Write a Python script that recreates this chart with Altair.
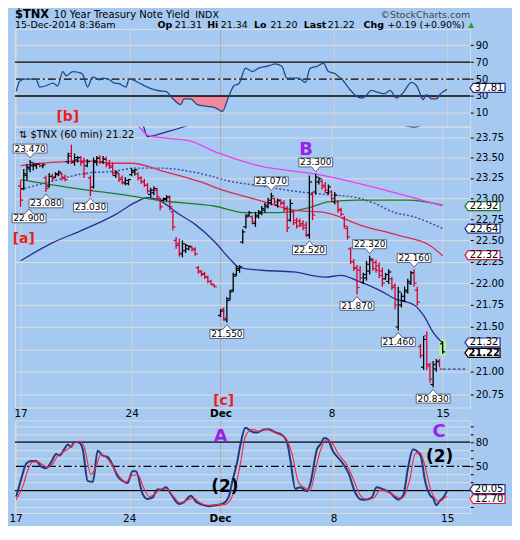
import altair as alt
import pandas as pd

FONT = "DejaVu Sans"
BG = "#a6c9f2"
BORDER = "#1c2b5e"
BAR_RED = "#d6002d"
LABEL_RED = "#ee1c1c"
PURPLE = "#9a24e6"
NAVY = "#2b2d8f"

# ---------------- time axis (hourly bar index, first bar of Nov 17 = 0)
DATE_TICKS = [0, 35, 63, 98, 133]
DATE_LABELS = ["17", "24", "Dec", "8", "15"]
DEC_TICK = 63
X_MIN, X_MAX = -0.2, 140.1

PRICE_TICKS = [20.75, 21.00, 21.25, 21.50, 21.75, 22.00, 22.25, 22.50, 22.75,
               23.00, 23.25, 23.50, 23.75]
PRICE_HIDDEN = [21.25]          # label covered by the price tags in the original
PRICE_MIN, PRICE_MAX = 20.61, 23.886
RSI_TICKS = [10, 30, 50, 70, 90]
RSI_MIN, RSI_MAX = -6.1, 109.2
RSI_LINES = [70, 30]
RSI_MID = [50]
STO_TICKS = [0, 10, 20, 30, 40, 50, 60, 70, 80, 90, 100]
STO_SHOWN = [80, 50]
STO_MIN, STO_MAX = -7.7, 107.0
STO_LINES = [80, 20]
STO_MID = [50]

# ---------------- hourly OHLC bars (None = no bar)
HIGH = [23.22, 23.36, 23.42, 23.47, 23.44, 23.43, 23.44, 23.43, 23.28, 23.31,
        23.30, 23.32, 23.34, 23.31, 23.29, 23.56, 23.66, 23.55, 23.52, 23.52,
        23.50, 23.48, 23.28, 23.50, 23.52, 23.53, 23.52, 23.51, 23.47, 23.44,
        23.34, 23.31, 23.28, 23.26, 23.24, 23.37, 23.36, 23.32, 23.27, 23.24,
        23.19, 23.13, 23.15, 23.13, 23.01, 23.01, 23.04, 23.04, 22.86, 22.54,
        22.52, 22.50, 22.46, 22.44, 22.43, 22.42, 22.20, 22.15, 22.13, 22.09,
        22.04, 21.99, None, 21.70, 21.72, 21.84, 21.92, 22.12, 22.20, 22.21,
        22.63, 22.81, 22.85, 22.80, 22.84, 22.86, 22.91, 22.95, 23.01, 23.07,
        23.01, 23.00, 22.99, 22.98, 22.91, 22.99, 22.86, 22.77, 22.76, 22.74,
        22.72, 23.28, 23.08, 23.30, 23.26, 23.23, 23.20, 23.17, 23.10, 23.08,
        22.98, 22.89, 22.79, 22.67, 22.42, 22.28, 22.21, 22.20, 22.12, 22.26,
        22.32, 22.29, 22.27, 22.24, 22.18, 22.12, 22.16, 22.07, 22.00, 21.96,
        21.89, 21.96, 22.05, 22.14, 22.16, 21.96, 21.31, 21.40, 21.45, 21.10,
        21.12, 21.14, 21.14, 21.34]
LOW = [22.90, 23.10, 23.22, 23.32, 23.34, 23.36, 23.38, 23.37, 23.08, 23.13,
       23.21, 23.25, 23.27, 23.22, 23.21, 23.42, 23.42, 23.40, 23.44, 23.40,
       23.25, 23.38, 23.03, 23.12, 23.40, 23.42, 23.42, 23.38, 23.36, 23.28,
       23.25, 23.20, 23.17, 23.16, 23.16, 23.27, 23.28, 23.22, 23.18, 23.14,
       23.06, 23.01, 23.04, 22.99, 22.86, 22.97, 22.97, 22.86, 22.62, 22.40,
       22.31, 22.30, 22.35, 22.38, 22.37, 22.32, 22.11, 22.08, 22.05, 22.00,
       21.98, 21.95, None, 21.61, 21.57, 21.55, 21.80, 21.90, 22.08, 22.12,
       22.46, 22.64, 22.78, 22.69, 22.66, 22.76, 22.80, 22.83, 22.88, 22.92,
       22.93, 22.89, 22.92, 22.84, 22.60, 22.72, 22.68, 22.64, 22.66, 22.62,
       22.54, 22.52, 22.74, 23.05, 23.17, 23.11, 23.07, 23.05, 22.97, 22.93,
       22.83, 22.79, 22.64, 22.51, 22.22, 22.14, 21.87, 22.03, 21.99, 22.03,
       22.10, 22.14, 22.12, 22.06, 21.96, 22.04, 21.99, 21.92, 21.70, 21.46,
       21.72, 21.78, 21.88, 21.98, 21.96, 21.74, 21.15, 21.02, 21.02, 20.88,
       20.83, 21.00, 21.05, 21.20]
OPEN = [23.15, 23.12, 23.28, 23.36, 23.40, 23.40, 23.42, 23.40, 23.25, 23.15,
        23.27, 23.26, 23.29, 23.30, 23.26, 23.45, 23.55, 23.44, 23.47, 23.50,
        23.45, 23.40, 23.25, 23.14, 23.44, 23.50, 23.45, 23.48, 23.43, 23.40,
        23.28, 23.30, 23.25, 23.19, 23.18, 23.29, 23.32, 23.30, 23.25, 23.21,
        23.16, 23.05, 23.07, 23.10, 23.00, 22.98, 22.99, 23.01, 22.84, 22.50,
        22.46, 22.34, 22.38, 22.40, 22.42, 22.40, 22.18, 22.13, 22.11, 22.07,
        22.02, 21.98, None, 21.63, 21.70, 21.58, 21.82, 21.92, 22.10, 22.15,
        22.48, 22.66, 22.80, 22.78, 22.70, 22.78, 22.82, 22.86, 22.90, 22.95,
        23.00, 22.92, 22.97, 22.95, 22.88, 22.74, 22.84, 22.74, 22.73, 22.70,
        22.68, 22.56, 23.05, 23.08, 23.20, 23.21, 23.16, 23.07, 23.08, 22.96,
        22.96, 22.87, 22.76, 22.64, 22.40, 22.25, 22.18, 22.15, 22.01, 22.06,
        22.14, 22.26, 22.24, 22.20, 22.14, 22.05, 22.02, 22.05, 21.97, 21.50,
        21.75, 21.80, 21.90, 22.00, 22.12, 21.92, 21.28, 21.05, 21.40, 21.06,
        20.86, 21.03, 21.12, 21.31]
CLOSE = [22.98, 23.30, 23.38, 23.44, 23.42, 23.42, 23.40, 23.41, 23.12, 23.27,
         23.24, 23.30, 23.32, 23.25, 23.23, 23.52, 23.46, 23.50, 23.50, 23.44,
         23.30, 23.45, 23.10, 23.46, 23.49, 23.45, 23.48, 23.41, 23.38, 23.31,
         23.32, 23.23, 23.20, 23.22, 23.23, 23.34, 23.35, 23.25, 23.20, 23.16,
         23.09, 23.10, 23.12, 23.02, 22.90, 23.00, 23.02, 22.90, 22.66, 22.44,
         22.35, 22.46, 22.44, 22.43, 22.39, 22.34, 22.14, 22.10, 22.07, 22.02,
         21.99, 21.96, None, 21.68, 21.60, 21.80, 21.90, 22.08, 22.17, 22.19,
         22.60, 22.78, 22.83, 22.72, 22.80, 22.84, 22.88, 22.92, 22.98, 23.03,
         22.96, 22.98, 22.94, 22.87, 22.65, 22.94, 22.71, 22.67, 22.68, 22.65,
         22.57, 23.20, 22.80, 23.26, 23.24, 23.14, 23.10, 23.14, 23.00, 23.04,
         22.86, 22.81, 22.67, 22.54, 22.25, 22.17, 21.95, 22.06, 22.10, 22.22,
         22.28, 22.17, 22.15, 22.09, 22.00, 22.10, 22.13, 21.95, 21.75, 21.90,
         21.85, 21.92, 22.02, 22.12, 22.00, 21.78, 21.18, 21.36, 21.08, 20.92,
         21.08, 21.11, 21.03, 21.22]
DIRS = ("rkkkkkrkrk" "rkkrrkrkkr" "rkrkkrkrrr" "krrkkkkrrr" "rkkrrkkrrr"
        "rkkkrrrrrr" "rr-krkkkkk" "kkkrkkkkkk" "rkrrrkrrrr" "rkrkkrrkrk"
        "rrrrrrrrkk" "krrrrkkrrk" "kkkkrrrkrr" "kkrk")
LAST_BAR = 133
PREV_CLOSE = 21.03

# ---------------- overlays (bar index, value)
MID_I = [0, 10, 21, 29, 36, 44, 56, 66, 76, 86, 96, 106, 111, 118, 123, 133]
MID_V = [23.11, 23.21, 23.31, 23.33, 23.37, 23.37, 23.31, 23.21, 23.15, 23.09,
         23.05, 23.01, 22.95, 22.83, 22.79, 22.64]
RED_I = [0, 10, 21, 29, 35, 45, 56, 64, 76, 86, 96, 108, 119, 129, 133]
RED_V = [23.40, 23.44, 23.46, 23.43, 23.43, 23.33, 23.21, 23.10, 22.97, 22.86,
         22.83, 22.67, 22.56, 22.44, 22.32]
GRN_I = [0, 16, 35, 45, 61, 71, 81, 91, 97, 106, 122, 133]
GRN_V = [23.23, 23.13, 23.03, 22.97, 22.91, 22.83, 22.83, 22.89, 22.96, 22.98,
         22.98, 22.92]
LOW_I = [0, 10, 20, 30, 36, 40, 43, 50, 55, 61, 66, 69, 76, 86, 96, 101, 106,
         113, 118, 124, 127, 130, 133]
LOW_V = [22.26, 22.47, 22.63, 22.81, 22.95, 23.01, 22.99, 22.81, 22.69, 22.49,
         22.28, 22.18, 22.15, 22.13, 22.07, 22.09, 22.03, 21.92, 21.82, 21.75,
         21.63, 21.44, 21.32]
UPP_I = [0, 20, 38, 40, 46, 52, 60, 80, 100, 118, 124, 128, 133]
UPP_V = [23.96, 23.99, 23.95, 23.76, 23.82, 23.89, 24.02, 24.10, 24.02, 23.93,
         23.88, 23.92, 23.99]
MAG_I = [0, 20, 36, 40, 46, 53, 62, 75, 94, 116, 133]
MAG_V = [23.98, 23.95, 23.92, 23.78, 23.74, 23.71, 23.56, 23.40, 23.29, 23.09,
         22.91]

# ---------------- RSI
RSI_I = [0.2, 1.2, 2.8, 6.3, 7.4, 9.4, 11.5, 13, 14.5, 15.6, 17.6, 20.2, 20.7,
         22.2, 23.7, 25.8, 26.8, 28.9, 30.4, 31.9, 34, 35, 36, 38.1, 40.1, 42.2,
         44.2, 46.3, 48.3, 50.9, 51.9, 54, 56, 59.1, 61.6, 63.7, 65.7, 67.3,
         68.8, 70.9, 72.9, 74.9, 78, 80.1, 82.1, 83.6, 87.2, 89.3, 90.8, 92.8,
         94.9, 96.4, 98.5, 99.5, 100.5, 103.1, 105.1, 106.7, 107.7, 109.7,
         111.8, 113.8, 115.4, 117.4, 119.5, 122, 123.6, 124.6, 125.6, 126.6,
         128.2, 129.7, 130.7, 133]
RSI_V = [35.4, 47.2, 50.0, 50.0, 40.6, 42.1, 45.3, 42.1, 58.9, 53.9, 58.9,
         57.1, 55.1, 40.6, 52.4, 49.2, 51.2, 49.2, 45.3, 44.5, 40.6, 50.0, 49.2,
         45.3, 41.3, 38.2, 36.2, 35.4, 27.6, 19.8, 26.5, 26.5, 19.8, 17.8, 15.9,
         11.9, 29.5, 42.1, 44.5, 62.9, 58.9, 62.9, 65.6, 68.0, 64.8, 51.2, 51.2,
         46.0, 62.9, 64.8, 68.8, 58.9, 56.2, 53.1, 50.0, 37.4, 29.5, 27.6, 29.5,
         36.6, 34.2, 32.7, 36.6, 27.6, 34.2, 46.0, 42.1, 33.5, 25.6, 31.5, 26.5,
         26.5, 31.5, 37.81]
RSI_LAST = 37.81

# ---------------- slow stochastic
K_I = [0.2, 1.7, 3.3, 4.8, 6.3, 7.9, 9.4, 11, 12.5, 13.5, 15, 16.1, 17.1, 18.1,
       19.7, 20.7, 22.2, 23.8, 25.3, 26.8, 28.4, 29.9, 31.4, 33, 34.5, 36, 37.1,
       39.1, 40.6, 42.2, 43.7, 45.2, 46.3, 47.8, 50.4, 51.9, 54, 55.5, 57.5,
       59.6, 61.6, 63.7, 65.7, 66.7, 68.3, 69.3, 70.8, 72.9, 74.4, 76.5, 78,
       80.1, 82.1, 83.6, 84.7, 86.2, 87.7, 89.8, 90.8, 92.9, 93.9, 95.2, 96.4,
       97.5, 100.5, 102.6, 104.6, 106.2, 107.7, 109.7, 111.3, 112.8, 115.4,
       117.9, 119.5, 121, 122.5, 124.1, 125.1, 126.1, 127.7, 128.7, 129.7,
       130.7, 131.8, 133]
K_V = [12.5, 34.1, 53.7, 56.8, 56.8, 49.8, 47.8, 55.6, 65.4, 63.5, 71.3, 77.2,
       74.1, 80.4, 79.2, 71.3, 32.1, 30.9, 69.4, 63.5, 61.5, 51.7, 38.0, 32.1,
       29.4, 43.9, 43.9, 16.4, 9.8, 11.3, 21.5, 21.5, 24.3, 16.4, 3.5, 5.8,
       13.7, 6.6, 2.7, 0.7, 1.9, 3.5, 12.5, 30.2, 55.6, 77.2, 98.0, 92.9, 92.1,
       95.6, 96.0, 92.1, 89.0, 81.1, 57.6, 22.3, 24.3, 19.2, 28.2, 71.3, 77.2,
       85.1, 83.1, 71.3, 55.6, 41.9, 18.4, 9.4, 8.6, 11.3, 24.3, 22.3, 17.6,
       9.0, 14.5, 49.8, 71.3, 67.4, 59.6, 34.1, 14.5, 10.5, 1.9, 7.4, 11.3,
       20.05]
D_I = [0.2, 2.3, 3.8, 5.3, 6.9, 8.4, 9.9, 11.5, 13, 14.5, 16.1, 17.6, 19.7,
       21.2, 23.2, 24.8, 26.3, 27.8, 29.4, 30.9, 32.5, 34, 35.5, 37.6, 39.6,
       41.2, 42.7, 44.2, 46.3, 48.3, 50.9, 52.9, 55, 56.5, 59.1, 61.6, 64.2,
       66.2, 67.8, 69.3, 70.8, 72.9, 74.9, 77, 79, 81.1, 83.1, 85.2, 87.2, 88.8,
       90.8, 92.3, 93.9, 95.9, 97.5, 99.5, 102.1, 104.1, 106.2, 108.2, 110.3,
       112.3, 114.4, 116.4, 119, 121.5, 123.1, 124.6, 126.1, 127.7, 129.2,
       130.7, 132.3, 133]
D_V = [8.6, 26.2, 45.8, 55.6, 55.6, 51.7, 49.0, 53.7, 63.5, 67.4, 71.3, 77.2,
       81.1, 73.3, 40.0, 49.8, 65.4, 61.5, 53.7, 43.9, 34.9, 30.2, 38.0, 40.0,
       22.3, 12.5, 15.3, 20.4, 22.3, 14.5, 4.7, 8.6, 10.5, 5.8, 1.9, 2.7, 2.7,
       8.6, 26.2, 53.7, 87.0, 96.0, 93.7, 96.0, 93.7, 89.8, 85.8, 65.4, 30.2,
       24.3, 20.4, 43.9, 69.4, 83.1, 79.2, 65.4, 51.7, 34.1, 14.5, 9.4, 10.5,
       20.4, 19.2, 14.5, 10.5, 34.1, 65.4, 67.4, 51.7, 24.3, 10.5, 6.6, 11.3,
       12.7]

# ---------------- swing labels on the price bars
HI_LAB_I = [3, 79, 93, 110, 124]
HI_LAB_V = [23.47, 23.07, 23.30, 22.32, 22.16]
LO_LAB_I = [8, 22, 65, 91, 106, 119, 130]
LO_LAB_V = [23.08, 23.03, 21.55, 22.52, 21.87, 21.46, 20.83]
EDGE_LAB_I = [0]
EDGE_LAB_V = [22.90]

# ---------------- right-hand value tags
PRICE_TAGS = [22.92, 22.64, 22.32, 21.32, 21.22]
PRICE_TAG_STYLE = [("#1e7d1e", "normal", 1), (NAVY, "normal", 0), ("#d8203c", "normal", -0.5),
                   (NAVY, "normal", -0.5), ("#000000", "bold", 1)]
RSI_TAG_NUDGE = -1.5
STO_TAGS = [12.70, 20.05]
STO_TAG_STYLE = [("#e8193a", 2.5), (NAVY, -1.5)]

# ---------------- wave annotations (text, bar index, panel value)
MAIN_ANN = [("[a]", 1.0, 22.52), ("B", 90, 23.59), ("[c]", 64, 20.675)]
RSI_ANN = [("[b]", 16.1, 5.6)]
STO_ANN = [("A", 63.2, 86.0), ("C", 130.5, 92.9), ("(2)", 64.5, 24.5),
           ("(2)", 130.7, 61.5)]
ANN_STYLE = {"[a]": (LABEL_RED, 14), "[b]": (LABEL_RED, 14), "[c]": (LABEL_RED, 14),
             "B": (PURPLE, 18), "A": (PURPLE, 18), "C": (PURPLE, 18),
             "(2)": ("#000000", 17)}

W = 457
H_RSI, H_MAIN, H_GAP, H_STO = 98, 282, 13, 93

# ---------------- data frames
assert len(HIGH) == len(LOW) == len(OPEN) == len(CLOSE) == len(DIRS) == 134
bars = pd.DataFrame({"i": list(range(len(HIGH))), "high": HIGH, "low": LOW,
                     "open": OPEN, "close": CLOSE, "dir": list(DIRS)}).dropna()
last_bar = bars[bars["i"] == LAST_BAR]


def series(I, V):
    return pd.DataFrame({"i": I, "v": V})


ONE = pd.DataFrame({"_": [0]})

xs = alt.Scale(domain=[X_MIN, X_MAX], nice=False, zero=False)
ps = alt.Scale(type="log", domain=[PRICE_MIN, PRICE_MAX], nice=False, zero=False)
rs = alt.Scale(domain=[RSI_MIN, RSI_MAX], nice=False, zero=False)
ss = alt.Scale(domain=[STO_MIN, STO_MAX], nice=False, zero=False)

date_expr = " : ".join(f"datum.value == {t} ? '{l}'"
                       for t, l in zip(DATE_TICKS, DATE_LABELS)) + " : ''"


def date_axis(show):
    return alt.Axis(
        values=DATE_TICKS, labelExpr=date_expr, labels=show, ticks=False,
        domain=False, grid=True, title=None, labelFlush=False,
        gridColor={"condition": {"test": f"datum.value === {DEC_TICK}", "value": "#a8a8a8"},
                   "value": "#d2d2d2"},
        labelFontWeight={"condition": {"test": f"datum.value === {DEC_TICK}", "value": "bold"},
                         "value": "normal"},
        labelFontSize=10.5, labelPadding=1, labelColor="#000", labelFont=FONT)


def value_axis(values, expr=None):
    kw = dict(orient="right", values=values, grid=True, gridColor="#dcdcdc",
              tickSize=3, tickColor="#000", domain=False, labelFontSize=10,
              labelPadding=2, labelOverlap=False, title=None, labelColor="#000",
              labelFont=FONT)
    if expr:
        kw["labelExpr"] = expr
    return alt.Axis(**kw)


def X(f="i"):
    return alt.X(f"{f}:Q", scale=xs, axis=None)


def line(I, V, yscale, color, width=1.2, dash=None):
    kw = dict(color=color, strokeWidth=width, interpolate="monotone", clip=True)
    if dash:
        kw["strokeDash"] = dash
    return alt.Chart(series(I, V)).mark_line(**kw).encode(
        x=X(), y=alt.Y("v:Q", scale=yscale, axis=None))


TAG_PATH = "M-1.2,0 L-1,-0.28 L1,-0.28 L1,0.28 L-1,0.28 Z"


def tag(value, yscale, color, weight="normal", yoff=0):
    d = pd.DataFrame({"v": [value]})
    xd = alt.XDatum(X_MAX, type="quantitative", scale=xs, axis=None)
    box = alt.Chart(d).mark_point(shape=TAG_PATH, size=1024, filled=True, fill="white",
                                  stroke=color, strokeWidth=1.2, opacity=1,
                                  xOffset=19, yOffset=yoff).encode(
        x=xd, y=alt.Y("v:Q", scale=yscale, axis=None))
    txt = alt.Chart(d).mark_text(fontSize=10, font=FONT, fontWeight=weight, color="#000",
                                 xOffset=19, yOffset=yoff, baseline="middle").encode(
        x=xd, y=alt.Y("v:Q", scale=yscale, axis=None), text=alt.Text("v:Q", format=".2f"))
    return [box, txt]


def annotations(items, yscale):
    out = []
    for t, i, v in items:
        color, size = ANN_STYLE[t]
        out.append(alt.Chart(pd.DataFrame({"i": [i], "v": [v], "t": [t]})).mark_text(
            fontSize=size, fontWeight="bold", font=FONT, color=color, baseline="middle").encode(
            x=X(), y=alt.Y("v:Q", scale=yscale, axis=None), text="t:N"))
    return out


def htext(txt, px, py, size, bold=False, color="#000", align="left"):
    return alt.Chart(ONE).mark_text(text=txt, align=align, baseline="middle", fontSize=size,
                                    fontWeight="bold" if bold else "normal", color=color,
                                    font=FONT).encode(x=alt.value(px), y=alt.value(py))


# ================= RSI panel
rsi_df = series(RSI_I, RSI_V)
rsi_fill = alt.Chart(rsi_df).transform_calculate(lo="min(datum.v, 30)").mark_area(
    color="#f2889b", opacity=1).encode(
    x=alt.X("i:Q", scale=xs, axis=date_axis(False)),
    y=alt.Y("lo:Q", scale=rs, axis=value_axis(RSI_TICKS)), y2=alt.datum(30))
rsi_rules = alt.Chart(pd.DataFrame({"v": RSI_LINES})).mark_rule(
    color="#000", strokeWidth=1.3).encode(y=alt.Y("v:Q", scale=rs, axis=None))
rsi_mid = alt.Chart(pd.DataFrame({"v": RSI_MID})).mark_rule(
    color="#000", strokeWidth=1.2, strokeDash=[8, 3, 2, 3]).encode(
    y=alt.Y("v:Q", scale=rs, axis=None))
rsi_line = line(RSI_I, RSI_V, rs, "#1f4a8a", 1.3)

LINE1, LINE2 = -13.5, -3.5
header = [
    htext("$TNX", 0, LINE1, 11.5, bold=True),
    htext("10 Year Treasury Note Yield", 39, LINE1, 10),
    htext("INDX", 181, LINE1, 9.5),
    htext("©StockCharts.com", W, LINE1, 9.5, color="#444", align="right"),
    htext("15-Dec-2014 8:36am", 0, LINE2, 9.5),
    htext("Op", 143, LINE2, 9.5, bold=True),
    htext("21.31", 160.5, LINE2, 9.5),
    htext("Hi", 193, LINE2, 9.5, bold=True),
    htext("21.34", 206.5, LINE2, 9.5),
    htext("Lo", 240, LINE2, 9.5, bold=True),
    htext("21.20", 256.5, LINE2, 9.5),
    htext("Last", 290, LINE2, 9.5, bold=True),
    htext("21.22", 314, LINE2, 9.5),
    htext("Chg", 350, LINE2, 9.5, bold=True),
    htext("+0.19 (+0.90%)", 374, LINE2, 9.5),
    htext("▲", 455, LINE2, 7.5, color="#2a9d2a"),
]

rsi = alt.layer(rsi_fill, rsi_rules, rsi_mid, rsi_line,
                *tag(RSI_LAST, rs, NAVY, "normal", RSI_TAG_NUDGE),
                *annotations(RSI_ANN, rs), *header
                ).resolve_axis(x="independent", y="independent").properties(
    width=W, height=H_RSI)

# ================= price panel
color_dir = alt.Color("dir:N", scale=alt.Scale(domain=["k", "r"], range=["#000000", BAR_RED]),
                      legend=None)
hidden_test = " || ".join(f"datum.value == {v}" for v in PRICE_HIDDEN)
price_expr = f"({hidden_test}) ? '' : format(datum.value, '.2f')"
highlight = alt.Chart(last_bar).mark_bar(width=6.5, color="#b8efa2", yOffset=-2,
                                         y2Offset=2).encode(
    x=alt.X("i:Q", scale=xs, axis=date_axis(True)),
    y=alt.Y("high:Q", scale=ps, axis=value_axis(PRICE_TICKS, expr=price_expr)), y2="low:Q")
ma_layers = [
    line(LOW_I, LOW_V, ps, NAVY, 1.3),
    line(UPP_I, UPP_V, ps, NAVY, 1.3),
    line(MID_I, MID_V, ps, "#3745a8", 1.4, dash=[2, 2]),
    line(GRN_I, GRN_V, ps, "#1f7f1f", 1.3),
    line(RED_I, RED_V, ps, "#df2a4a", 1.3),
    line(MAG_I, MAG_V, ps, "#f03cf0", 1.3),
]
bar_rules = alt.Chart(bars).mark_rule(strokeWidth=1.3).encode(
    x=X(), y=alt.Y("high:Q", scale=ps, axis=None), y2="low:Q", color=color_dir)
open_ticks = alt.Chart(bars).mark_tick(orient="horizontal", size=2.4, thickness=1.2,
                                       xOffset=-1.4, opacity=1).encode(
    x=X(), y=alt.Y("open:Q", scale=ps, axis=None), color=color_dir)
close_ticks = alt.Chart(bars).mark_tick(orient="horizontal", size=2.4, thickness=1.2,
                                        xOffset=1.4, opacity=1).encode(
    x=X(), y=alt.Y("close:Q", scale=ps, axis=None), color=color_dir)
prev_close = alt.Chart(pd.DataFrame({"i": [LAST_BAR], "v": [PREV_CLOSE]})).mark_rule(
    color="#2b3d9c", strokeDash=[3, 2], strokeWidth=1.2).encode(
    x=X(), x2=alt.datum(X_MAX), y=alt.Y("v:Q", scale=ps, axis=None))

LO_PATH = "M-1,0.41 L-0.24,0.41 L0,0.12 L0.24,0.41 L1,0.41 L1,0.94 L-1,0.94 Z"
HI_PATH = "M-1,-0.41 L-0.24,-0.41 L0,-0.12 L0.24,-0.41 L1,-0.41 L1,-0.94 L-1,-0.94 Z"


def swing_labels(I, V, path, dy, xoff=0):
    d = series(I, V)
    box = alt.Chart(d).mark_point(shape=path, size=1156, filled=True, fill="white",
                                  stroke="#56627e", strokeWidth=1, opacity=1,
                                  xOffset=xoff).encode(
        x=X(), y=alt.Y("v:Q", scale=ps, axis=None))
    txt = alt.Chart(d).mark_text(fontSize=9, font=FONT, color="#000", dy=dy,
                                 xOffset=xoff, baseline="middle").encode(
        x=X(), y=alt.Y("v:Q", scale=ps, axis=None), text=alt.Text("v:Q", format=".3f"))
    return [box, txt]


legend_txt = htext("⇅ $TNX (60 min) 21.22", 4, 8, 10)

price_tags = []
for v, (c, wgt, yo) in zip(PRICE_TAGS, PRICE_TAG_STYLE):
    price_tags += tag(v, ps, c, wgt, yo)

main = alt.layer(
    highlight, *ma_layers, bar_rules, open_ticks, close_ticks, prev_close,
    *swing_labels(HI_LAB_I, HI_LAB_V, HI_PATH, -11.5),
    *swing_labels(LO_LAB_I, LO_LAB_V, LO_PATH, 11.5),
    *swing_labels(EDGE_LAB_I, EDGE_LAB_V, LO_PATH, 11.5, xoff=8.5),
    *price_tags, *annotations(MAIN_ANN, ps), legend_txt,
).resolve_axis(x="independent", y="independent").properties(width=W, height=H_MAIN)

# ================= blue date strip (spacer; the price panel's date labels sit here)
strip = alt.Chart(ONE).mark_point(opacity=0).encode(
    x=alt.value(0), y=alt.value(0)).properties(
    width=W, height=H_GAP, view=alt.ViewBackground(fillOpacity=0, strokeOpacity=0))

# ================= stochastic panel
sto_expr = " || ".join(f"datum.value == {v}" for v in STO_SHOWN) + " ? datum.label : ''"
d_line_axes = alt.Chart(series(D_I, D_V)).mark_line(
    color="#ff2040", strokeWidth=1.1, interpolate="monotone", opacity=0).encode(
    x=alt.X("i:Q", scale=xs, axis=date_axis(True)),
    y=alt.Y("v:Q", scale=ss, axis=value_axis(STO_TICKS, expr=sto_expr)))
sto_rules = alt.Chart(pd.DataFrame({"v": STO_LINES})).mark_rule(
    color="#000", strokeWidth=1.3).encode(y=alt.Y("v:Q", scale=ss, axis=None))
sto_mid = alt.Chart(pd.DataFrame({"v": STO_MID})).mark_rule(
    color="#000", strokeWidth=1.2, strokeDash=[8, 3, 2, 3]).encode(
    y=alt.Y("v:Q", scale=ss, axis=None))
k_line = line(K_I, K_V, ss, "#1d3c7c", 2.0)
d_line = line(D_I, D_V, ss, "#ff2040", 1.1)
sto_tags = []
for v, (c, yo) in zip(STO_TAGS, STO_TAG_STYLE):
    sto_tags += tag(v, ss, c, "normal", yo)

stoch = alt.layer(d_line_axes, sto_rules, sto_mid, k_line, d_line,
                  *sto_tags, *annotations(STO_ANN, ss)
                  ).resolve_axis(x="independent", y="independent").properties(
    width=W, height=H_STO)

chart = alt.vconcat(rsi, main, strip, stoch, spacing=0, bounds="flush").properties(
    background=BG, padding={"left": 0, "top": 0, "right": 4, "bottom": 0}
).configure_view(stroke=BORDER, strokeWidth=1.5, fill="white").configure(font=FONT)

chart.save("out.html", embed_options={"renderer": "svg", "actions": False})
